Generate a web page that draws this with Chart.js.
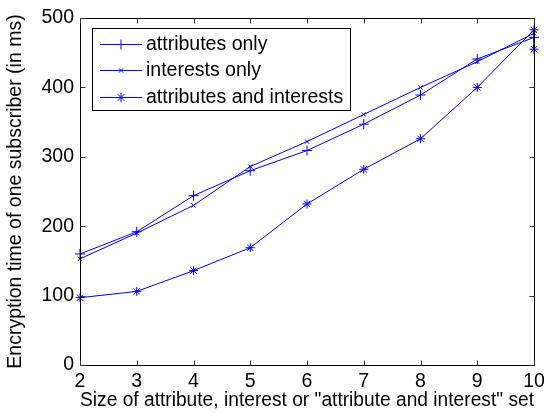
<!DOCTYPE html>
<html>
<head>
<meta charset="utf-8">
<script src="https://cdn.jsdelivr.net/npm/chart.js@4/dist/chart.umd.min.js"></script>
<style>
html,body{margin:0;padding:0;background:#fff;}
#wrap{width:550px;height:413px;position:relative;}
</style>
</head>
<body>
<div id="wrap"><canvas id="c" width="550" height="413"></canvas></div>
<script>
const setSizes = [2, 3, 4, 5, 6, 7, 8, 9, 10];
const attributesOnly = [160, 192, 244, 280, 309, 347, 389, 441, 472];
const interestsOnly = [153, 190, 230, 286, 322, 361, 400, 437, 478];
const attrAndInterestX = [2, 3, 4, 5, 6, 7, 8, 9, 10, 10];
const attrAndInterest = [97, 106, 136, 169, 232, 282, 326, 400, 483, 455];
const xTicks = [2, 3, 4, 5, 6, 7, 8, 9, 10];
const yTicks = [0, 100, 200, 300, 400, 500];
const seriesNames = ['attributes only', 'interests only', 'attributes and interests'];

const FONT = '"Liberation Sans", Arial, Helvetica, sans-serif';
const FS = 19.5;
const BLUE = 'rgb(0,0,255)';

function pts(xs, ys){ return ys.map((v,i)=>({x:xs[i], y:v})); }

const boxPlugin = {
  id: 'matlabBox',
  afterDraw(chart){
    const ctx = chart.ctx, a = chart.chartArea;
    const xs = chart.scales.x, ys = chart.scales.y;
    ctx.save();
    ctx.strokeStyle = '#000';
    ctx.lineWidth = 1;
    ctx.beginPath();
    const L = Math.round(a.left)+0.5, R = Math.round(a.right)+0.5, T = Math.round(a.top)+0.5, B = Math.round(a.bottom)+0.5;
    ctx.rect(L, T, R-L, B-T);
    ctx.stroke();
    ctx.strokeStyle = '#333';
    ctx.beginPath();
    const tl = 5;
    xTicks.forEach(v=>{
      const px = Math.round(xs.getPixelForValue(v))+0.5;
      ctx.moveTo(px, B); ctx.lineTo(px, B-tl);
      ctx.moveTo(px, T); ctx.lineTo(px, T+tl);
    });
    yTicks.forEach(v=>{
      const py = Math.round(ys.getPixelForValue(v))+0.5;
      ctx.moveTo(L, py); ctx.lineTo(L+tl, py);
      ctx.moveTo(R, py); ctx.lineTo(R-tl, py);
    });
    ctx.stroke();

    // legend
    const lx = 92.5, ly = 28.5, lw = 258, lh = 82;
    ctx.fillStyle = '#fff';
    ctx.fillRect(lx, ly, lw, lh);
    ctx.strokeStyle = '#000';
    ctx.strokeRect(lx, ly, lw, lh);
    const rows = [44, 70, 97];
    ctx.font = FS + 'px ' + FONT;
    ctx.textBaseline = 'middle';
    chart.data.datasets.forEach((ds, i)=>{
      const y = rows[i];
      ctx.strokeStyle = BLUE;
      ctx.lineWidth = 1;
      ctx.beginPath();
      ctx.moveTo(100, y+0.5); ctx.lineTo(142, y+0.5);
      ctx.stroke();
      Chart.helpers.drawPoint(ctx, {
        pointStyle: ds.pointStyle, radius: ds.pointRadius, rotation: 0,
        borderWidth: 1
      }, 121, y+0.5);
      ctx.fillStyle = '#000';
      ctx.fillText(ds.label, 146, y+1);
    });
    ctx.restore();
  }
};

new Chart(document.getElementById('c'), {
  type: 'line',
  data: {
    datasets: [
      { label: seriesNames[0], data: pts(setSizes, attributesOnly), pointStyle: 'cross', pointRadius: 5 },
      { label: seriesNames[1], data: pts(setSizes, interestsOnly), pointStyle: 'crossRot', pointRadius: 3 },
      { label: seriesNames[2], data: pts(attrAndInterestX, attrAndInterest), pointStyle: 'star', pointRadius: 4.5 }
    ].map(d=>Object.assign(d, {
      borderColor: BLUE, backgroundColor: BLUE, pointBorderColor: BLUE, pointBackgroundColor: BLUE,
      borderWidth: 1, pointBorderWidth: 1, pointHoverRadius: 0, tension: 0, fill: false, clip: false
    }))
  },
  options: {
    responsive: false,
    animation: false,
    events: [],
    layout: { padding: { top: 18, right: 16, left: 0, bottom: 0 } },
    plugins: { legend: { display: false }, tooltip: { enabled: false } },
    scales: {
      x: {
        type: 'linear', min: 2, max: 10,
        afterBuildTicks(s){ s.ticks = xTicks.map(v=>({value:v})); },
        afterFit(s){ s.height = 48; },
        grid: { display: false, drawTicks: false },
        border: { display: false },
        ticks: { color: '#000', font: { family: FONT, size: FS }, padding: 5, maxRotation: 0, autoSkip: false },
        title: { display: true, text: 'Size of attribute, interest or "attribute and interest" set', color: '#000', font: { family: FONT, size: FS }, padding: { top: 0, bottom: 1 } }
      },
      y: {
        type: 'linear', min: 0, max: 500,
        afterBuildTicks(s){ s.ticks = yTicks.map(v=>({value:v})); },
        afterFit(s){ s.width = 80; },
        grid: { display: false, drawTicks: false },
        border: { display: false },
        ticks: { color: '#000', font: { family: FONT, size: FS }, padding: 6, autoSkip: false },
        title: { display: true, text: 'Encryption time of one subscriber (in ms)', color: '#000', font: { family: FONT, size: FS }, padding: { top: 4, bottom: 0 } }
      }
    }
  },
  plugins: [boxPlugin]
});
</script>
</body>
</html>
